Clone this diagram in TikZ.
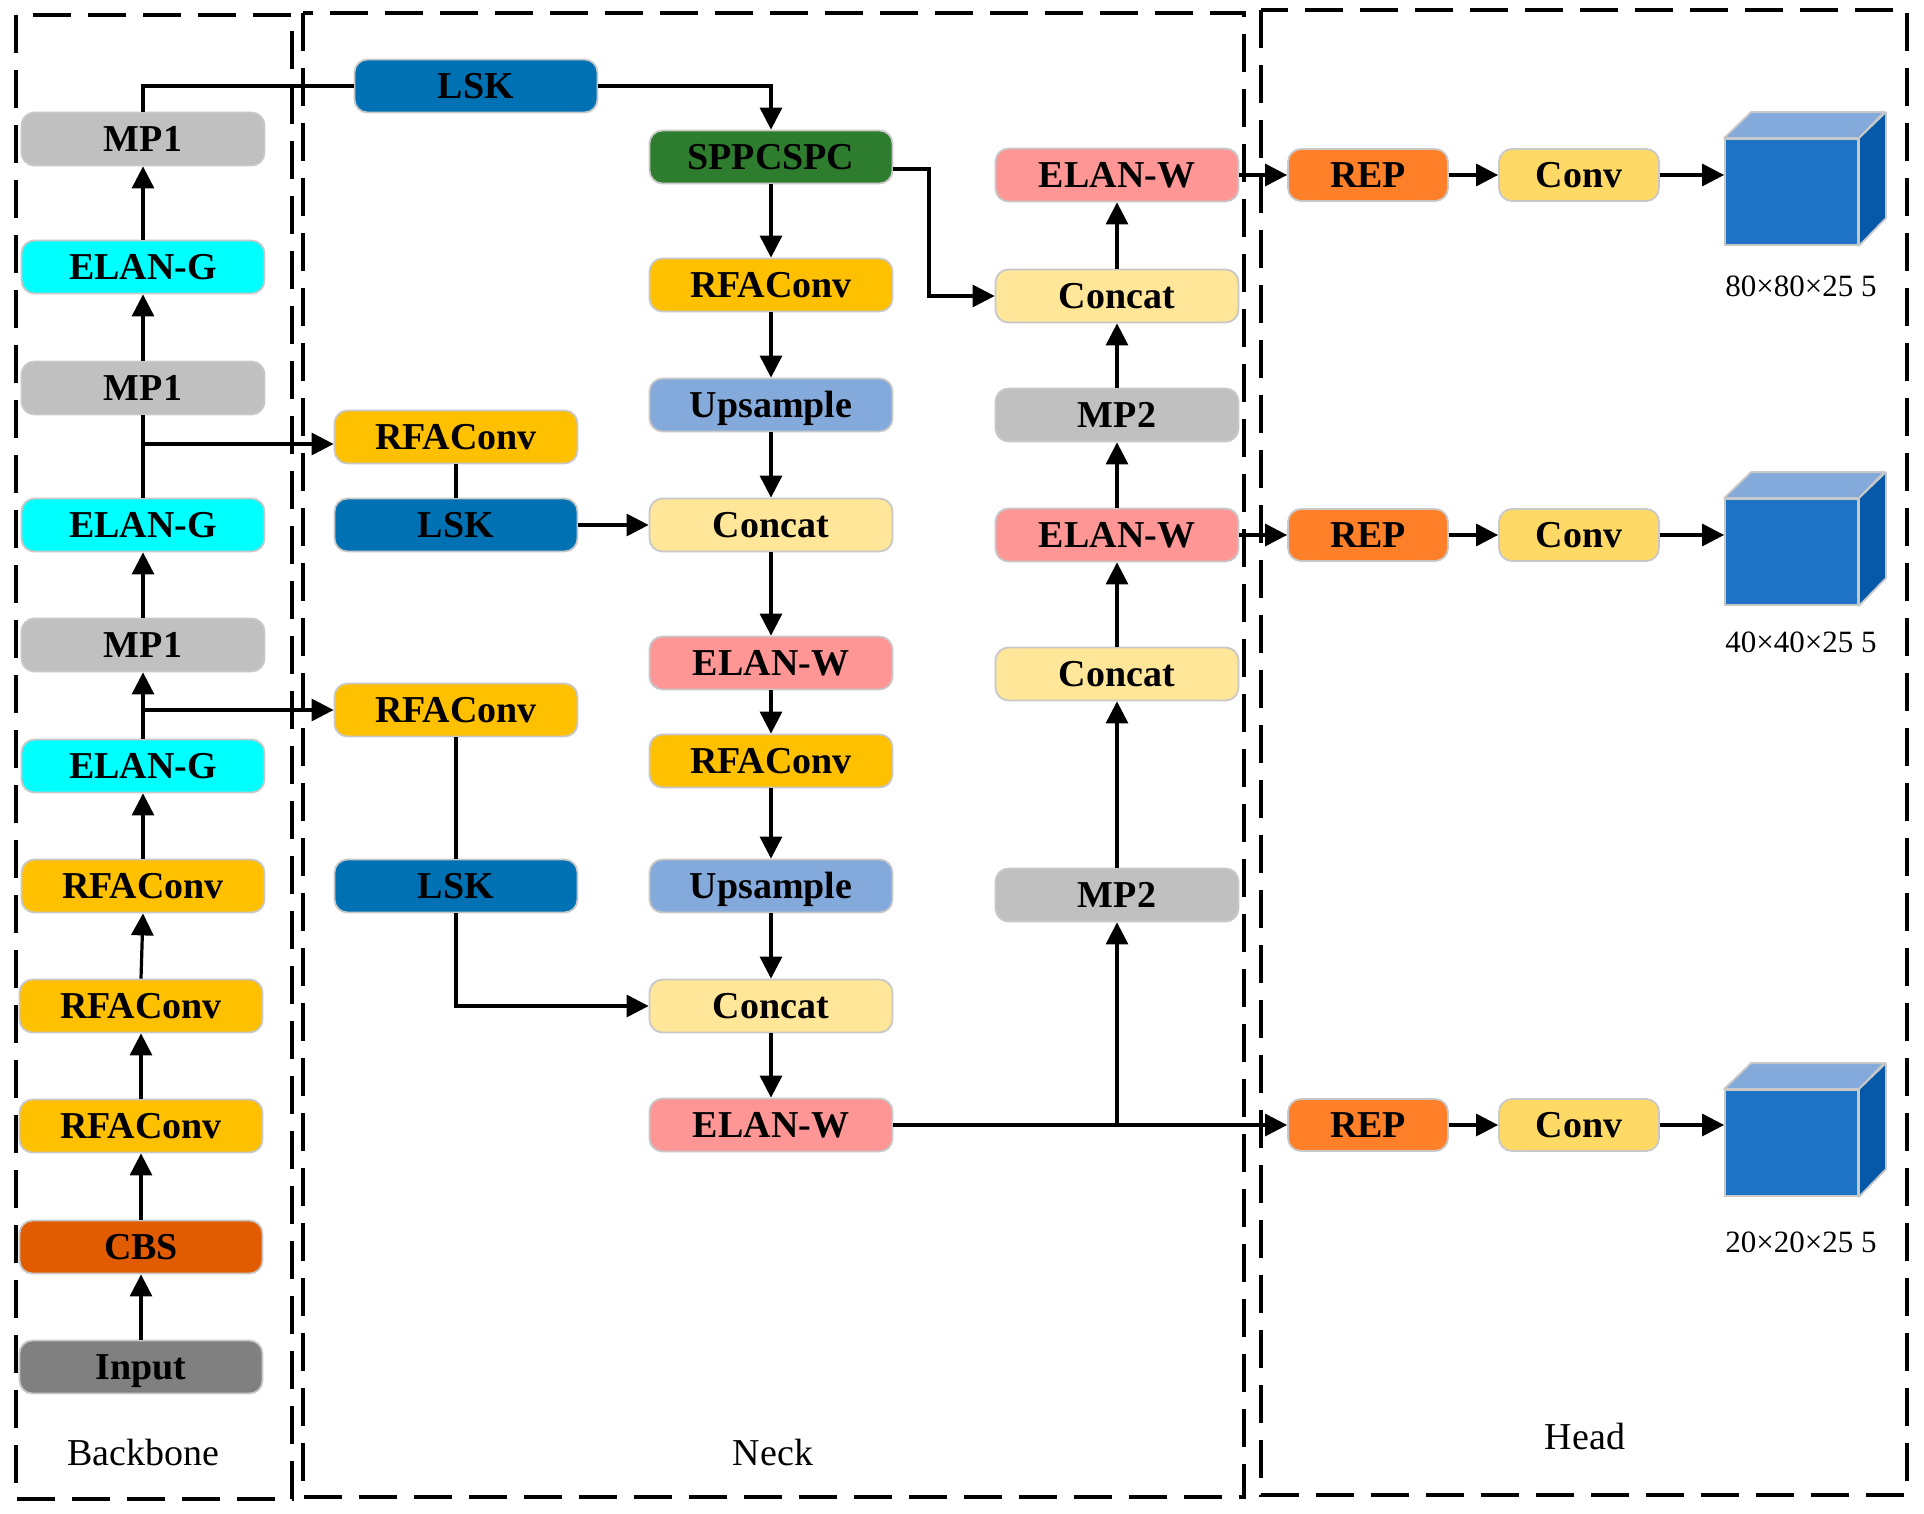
\documentclass[tikz,border=0pt]{standalone}
\usepackage{fontspec}
\setmainfont{Liberation Serif}
\usetikzlibrary{arrows.meta}
\definecolor{cgray}{RGB}{192,192,192}
\definecolor{ccyan}{RGB}{0,255,255}
\definecolor{crfa}{RGB}{255,192,0}
\definecolor{ccbs}{RGB}{225,91,0}
\definecolor{cinput}{RGB}{128,128,128}
\definecolor{clsk}{RGB}{0,114,180}
\definecolor{cspp}{RGB}{46,125,46}
\definecolor{cup}{RGB}{132,170,220}
\definecolor{ccat}{RGB}{255,230,153}
\definecolor{celw}{RGB}{255,150,150}
\definecolor{crep}{RGB}{255,128,40}
\definecolor{cconv}{RGB}{255,217,102}
\definecolor{cubefront}{RGB}{31,115,197}
\definecolor{cubetop}{RGB}{132,170,220}
\definecolor{cubeside}{RGB}{6,88,168}
\definecolor{bordergray}{RGB}{200,200,200}
\begin{document}
\begin{tikzpicture}[x=1pt,y=-1pt,
 blk/.style={draw=bordergray, line width=1.8pt, rounded corners=13pt, minimum width=243pt, minimum height=53pt, inner sep=0pt, text height=25pt, text depth=0pt, font=\fontsize{38}{40}\selectfont\bfseries},
 hblk/.style={blk, minimum width=160pt, minimum height=52pt},
 arr/.style={line width=3.2pt, -{Triangle[length=22pt,width=22pt]}},
 ln/.style={line width=3.2pt},
 grp/.style={line width=3.5pt, dash pattern=on 38pt off 17pt},
 lbl/.style={font=\fontsize{38}{40}\selectfont},
 dimlbl/.style={font=\fontsize{31}{33}\selectfont},
 cube/.style={fill=cubefront, draw=bordergray, line width=1.8pt, minimum width=133pt, minimum height=106pt, inner sep=0pt}
]
\useasboundingbox (0,0) rectangle (1924,1514);
\fill[white] (0,0) rectangle (1924,1514);

% group frames
\draw[grp] (16,15) rectangle (292,1499);
\draw[grp] (303,13) rectangle (1244,1497);
\draw[grp] (1261,10) rectangle (1907,1495);
\node[lbl] (lback) at (143,1452) {Backbone};
\node[lbl] (lneck) at (773,1452) {Neck};
\node[lbl] (lhead) at (1585,1436) {Head};

% backbone
\node[blk, fill=cgray]   (bmp1)  at (143,139)  {MP1};
\node[blk, fill=ccyan]   (belg1) at (143,267)  {ELAN-G};
\node[blk, fill=cgray]   (bmp2)  at (143,388)  {MP1};
\node[blk, fill=ccyan]   (belg2) at (143,525)  {ELAN-G};
\node[blk, fill=cgray]   (bmp3)  at (143,645)  {MP1};
\node[blk, fill=ccyan]   (belg3) at (143,766)  {ELAN-G};
\node[blk, fill=crfa]    (brfa1) at (143,886)  {RFAConv};
\node[blk, fill=crfa]    (brfa2) at (141,1006) {RFAConv};
\node[blk, fill=crfa]    (brfa3) at (141,1126) {RFAConv};
\node[blk, fill=ccbs]    (bcbs)  at (141,1247) {CBS};
\node[blk, fill=cinput]  (binput) at (141,1367) {Input};

% neck left column
\node[blk, fill=clsk]  (lsk0)  at (476,86)  {LSK};
\node[blk, fill=crfa]  (nrfa1) at (456,437) {RFAConv};
\node[blk, fill=clsk]  (nlsk1) at (456,525) {LSK};
\node[blk, fill=crfa]  (nrfa2) at (456,710) {RFAConv};
\node[blk, fill=clsk]  (nlsk2) at (456,886) {LSK};

% neck middle column
\node[blk, fill=cspp]  (spp)   at (771,157)  {SPPCSPC};
\node[blk, fill=crfa]  (mrfa1) at (771,285)  {RFAConv};
\node[blk, fill=cup]   (mup1)  at (771,405)  {Upsample};
\node[blk, fill=ccat]  (mcat1) at (771,525)  {Concat};
\node[blk, fill=celw]  (melw1) at (771,663)  {ELAN-W};
\node[blk, fill=crfa]  (mrfa2) at (771,761)  {RFAConv};
\node[blk, fill=cup]   (mup2)  at (771,886)  {Upsample};
\node[blk, fill=ccat]  (mcat2) at (771,1006) {Concat};
\node[blk, fill=celw]  (melw2) at (771,1125) {ELAN-W};

% neck right column
\node[blk, fill=celw]  (relw1) at (1117,175) {ELAN-W};
\node[blk, fill=ccat]  (rcat1) at (1117,296) {Concat};
\node[blk, fill=cgray] (rmp1)  at (1117,415) {MP2};
\node[blk, fill=celw]  (relw2) at (1117,535) {ELAN-W};
\node[blk, fill=ccat]  (rcat2) at (1117,674) {Concat};
\node[blk, fill=cgray] (rmp2)  at (1117,895) {MP2};

% head
\node[hblk, fill=crep]  (rep1)  at (1368,175)  {REP};
\node[hblk, fill=cconv] (conv1) at (1579,175)  {Conv};
\node[hblk, fill=crep]  (rep2)  at (1368,535)  {REP};
\node[hblk, fill=cconv] (conv2) at (1579,535)  {Conv};
\node[hblk, fill=crep]  (rep3)  at (1368,1125) {REP};
\node[hblk, fill=cconv] (conv3) at (1579,1125) {Conv};

\foreach \c/\y in {cube1/192, cube2/552, cube3/1143}{
  \node[cube] (\c) at (1791.5,\y) {};
  \filldraw[fill=cubetop, draw=bordergray, line width=1.8pt, line join=round]
    (\c.north west) -- ++(27,-26) -- ++(133,0) -- (\c.north east) -- cycle;
  \filldraw[fill=cubeside, draw=bordergray, line width=1.8pt, line join=round]
    (\c.north east) -- ++(27,-26) -- ++(0,106) -- (\c.south east) -- cycle;
}
\node[dimlbl] (d1) at (1801,286)  {80×80×25 5};
\node[dimlbl] (d2) at (1801,642)  {40×40×25 5};
\node[dimlbl] (d3) at (1801,1242) {20×20×25 5};

% backbone connectors
\draw[arr] (binput) -- (bcbs);
\draw[arr] (bcbs) -- (brfa3);
\draw[arr] (brfa3) -- (brfa2);
\draw[arr] (brfa2.north) -- (brfa1.south);
\draw[arr] (brfa1) -- (belg3);
\draw[arr] (belg3) -- (bmp3);
\draw[arr] (bmp3) -- (belg2);
\draw[ln]  (belg2) -- (bmp2);
\draw[arr] (bmp2) -- (belg1);
\draw[arr] (belg1) -- (bmp1);
\draw[ln]  (bmp1.north) |- (lsk0.west);
\draw[arr] (lsk0.east) -| (spp.north);

% branches to neck
\coordinate (j1) at (143,444);
\draw[arr] (j1) -- (j1 -| nrfa1.west);
\coordinate (j2) at (143,710);
\draw[arr] (j2) -- (nrfa2.west);
\draw[ln]  (nrfa1) -- (nlsk1);
\draw[arr] (nlsk1) -- (mcat1);
\draw[ln]  (nrfa2) -- (nlsk2);
\draw[arr] (nlsk2.south) |- (mcat2.west);

% middle column
\draw[arr] (spp) -- (mrfa1);
\draw[arr] (mrfa1) -- (mup1);
\draw[arr] (mup1) -- (mcat1);
\draw[arr] (mcat1) -- (melw1);
\draw[arr] (melw1) -- (mrfa2);
\draw[arr] (mrfa2) -- (mup2);
\draw[arr] (mup2) -- (mcat2);
\draw[arr] (mcat2) -- (melw2);

% SPPCSPC to concat
\coordinate (s1) at (929,169);
\draw[arr] (spp.east |- s1) -- (s1) |- (rcat1.west);

% bottom path
\draw[arr] (melw2.east) -- (rep3.west);
\draw[arr] (rmp2 |- melw2) -- (rmp2.south);
\draw[arr] (rmp2) -- (rcat2);
\draw[arr] (rcat2) -- (relw2);
\draw[arr] (relw2) -- (rmp1);
\draw[arr] (rmp1) -- (rcat1);
\draw[arr] (rcat1) -- (relw1);

% head connectors
\draw[arr] (relw1.east) -- (rep1.west);
\draw[arr] (relw2.east) -- (rep2.west);
\draw[arr] (rep1) -- (conv1);
\draw[arr] (rep2) -- (conv2);
\draw[arr] (rep3) -- (conv3);
\draw[arr] (conv1.east) -- (conv1.east -| cube1.west);
\draw[arr] (conv2.east) -- (conv2.east -| cube2.west);
\draw[arr] (conv3.east) -- (conv3.east -| cube3.west);
\end{tikzpicture}
\end{document}
